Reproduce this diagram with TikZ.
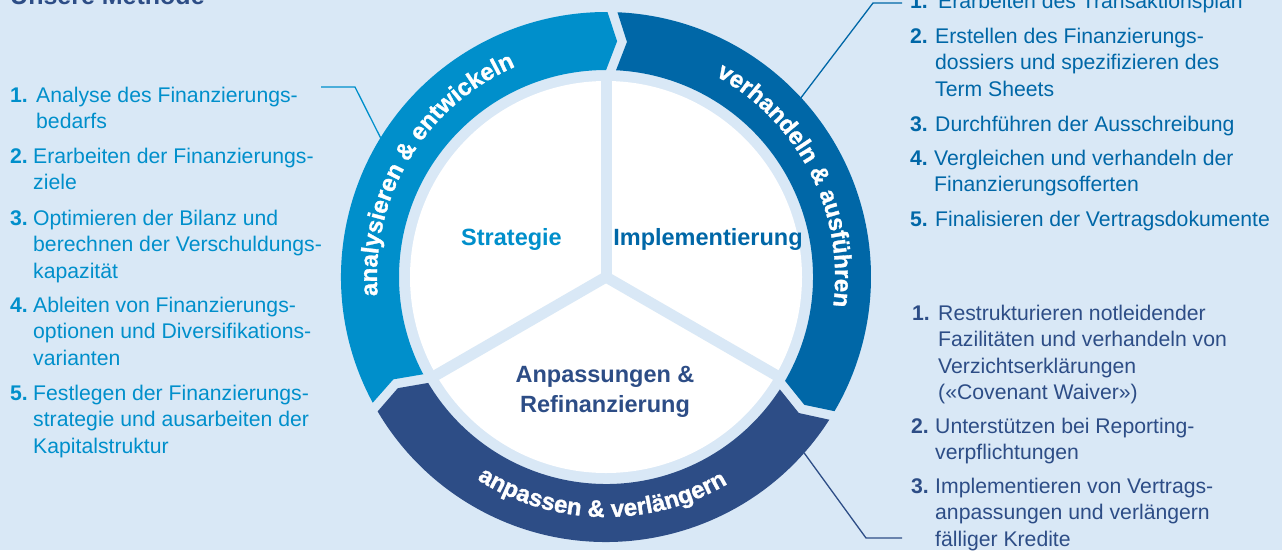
\documentclass[tikz,border=0pt]{standalone}
\usepackage{fontspec}
\setmainfont{Liberation Sans}
\usetikzlibrary{decorations.text}
\definecolor{bg}{HTML}{D9E8F6}
\definecolor{cone}{HTML}{008FCB}
\definecolor{ctwo}{HTML}{0067A7}
\definecolor{cthree}{HTML}{2D4D86}
\newcommand\itemlines[1]{\begin{tabular}[t]{@{}l@{}}#1\end{tabular}}
\newcommand\ringseg[3]{%
  \fill[#3] ({#1-1.08}:265) arc[start angle={#1-1.08}, end angle={#2+1.08}, radius=265]
    -- ({#2-1.3}:236) -- ({#2+1.38}:207)
    arc[start angle={#2+1.38}, end angle={#1-1.38}, radius=207]
    -- ({#1-3.7}:236) -- cycle;}
\newcommand\ringtext[4]{%
  \path[decorate,
    decoration={text along path, text align=center, text color=white,
    text={|\bfseries\fontsize{24}{24}\selectfont\addfontfeature{FakeBold=1.2}|#4}}]
    (#1:#3) arc[start angle=#1, end angle=#2, radius=#3];}
\tikzset{
  listtxt/.style={anchor=base west, inner sep=0pt, font=\fontsize{21.2}{26.5}\selectfont},
  listnum/.style={anchor=base west, inner sep=0pt, font=\bfseries\fontsize{21.2}{26.5}\selectfont},
  centerlbl/.style={anchor=base, inner sep=0pt, font=\bfseries\fontsize{23.5}{30}\selectfont},
  titlelbl/.style={anchor=base west, inner sep=0pt, font=\bfseries\fontsize{25}{30}\selectfont, text=cthree},
  conn/.style={line width=1.3pt, line join=miter},
  divider/.style={line width=11pt, draw=bg},
}
\begin{document}
\begin{tikzpicture}[x=1pt,y=1pt]
\useasboundingbox (0,0) rectangle (1282,-550);
\clip (0,0) rectangle (1282,-550);
\fill[bg] (0,0) rectangle (1282,-550);

% title
\node[titlelbl] (title) at (10,-4) {Unsere Methode};

% ring and inner circle
\begin{scope}[shift={(606,-277)}]
  \fill[white] (0,0) circle[radius=196];
  \draw[divider] (0,0) -- (90:200);
  \draw[divider] (0,0) -- (210:200);
  \draw[divider] (0,0) -- (330:200);
  \ringseg{209.4}{88.6}{cone}
  \ringseg{88.6}{-31.5}{ctwo}
  \ringseg{-31.5}{-150.6}{cthree}
  \ringtext{192}{106}{229}{analysieren {\&} entwickeln}
  \ringtext{72}{-18}{229}{verhandeln {\&} ausführen}
  \ringtext{-138}{-44}{240}{anpassen {\&} verlängern}
  \coordinate (la) at (148.3:265);
  \coordinate (ta) at (42.6:265);
  \coordinate (ba) at (-41.6:265);
\end{scope}

% centre labels
\node[centerlbl, text=cone] (strat) at (511.5,-245) {Strategie};
\node[centerlbl, text=ctwo] (impl) at (708,-245) {Implementierung};
\node[centerlbl, text=cthree] (anp) at (605,-382) {\begin{tabular}[t]{@{}c@{}}Anpassungen \&\\Refinanzierung\end{tabular}};

% left list
\begin{scope}[text=cone]
  \node[listnum] (l1n) at (10,-102) {1.};
  \node[listtxt] (l1) at (36,-102) {\itemlines{Analyse des Finanzierungs-\\bedarfs}};
  \node[listnum] (l2n) at (10,-163) {2.};
  \node[listtxt] (l2) at (33,-163) {\itemlines{Erarbeiten der Finanzierungs-\\ziele}};
  \node[listnum] (l3n) at (10,-225) {3.};
  \node[listtxt] (l3) at (33,-225) {\itemlines{Optimieren der Bilanz und\\berechnen der Verschuldungs-\\kapazität}};
  \node[listnum] (l4n) at (10,-312) {4.};
  \node[listtxt] (l4) at (33,-312) {\itemlines{Ableiten von Finanzierungs-\\optionen und Diversifikations-\\varianten}};
  \node[listnum] (l5n) at (10,-400) {5.};
  \node[listtxt] (l5) at (33,-400) {\itemlines{Festlegen der Finanzierungs-\\strategie und ausarbeiten der\\Kapitalstruktur}};
\end{scope}

% right top list
\begin{scope}[text=ctwo]
  \node[listnum] (r1n) at (910,-8) {1.};
  \node[listtxt] (r1) at (938,-8) {Erarbeiten des Transaktionsplan};
  \node[listnum] (r2n) at (910,-43) {2.};
  \node[listtxt] (r2) at (935,-43) {\itemlines{Erstellen des Finanzierungs-\\dossiers und spezifizieren des\\Term Sheets}};
  \node[listnum] (r3n) at (910,-131) {3.};
  \node[listtxt] (r3) at (935,-131) {Durchführen der Ausschreibung};
  \node[listnum] (r4n) at (910,-165) {4.};
  \node[listtxt] (r4) at (934,-165) {\itemlines{Vergleichen und verhandeln der\\Finanzierungsofferten}};
  \node[listnum] (r5n) at (910,-226) {5.};
  \node[listtxt] (r5) at (935,-226) {Finalisieren der Vertragsdokumente};
\end{scope}

% right bottom list
\begin{scope}[text=cthree]
  \node[listnum] (s1n) at (912,-320) {1.};
  \node[listtxt] (s1) at (938,-320) {\itemlines{Restrukturieren notleidender\\Fazilitäten und verhandeln von\\Verzichtserklärungen\\(«Covenant Waiver»)}};
  \node[listnum] (s2n) at (911,-433) {2.};
  \node[listtxt] (s2) at (935,-433) {\itemlines{Unterstützen bei Reporting-\\verpflichtungen}};
  \node[listnum] (s3n) at (911,-493) {3.};
  \node[listtxt] (s3) at (935,-493) {\itemlines{Implementieren von Vertrags-\\anpassungen und verlängern\\fälliger Kredite}};
\end{scope}

% connectors
\coordinate (lb) at (355,-87);
\coordinate (lc) at (321,-87);
\coordinate (tb) at (873,-3);
\coordinate (tc) at (902,-3);
\coordinate (bb) at (866,-538);
\coordinate (bc) at (902,-538);
\draw[conn, cone] (la) -- (lb) -- (lc);
\draw[conn, ctwo] (ta) -- (tb) -- (tc);
\draw[conn, cthree] (ba) -- (bb) -- (bc);
\end{tikzpicture}
\end{document}
